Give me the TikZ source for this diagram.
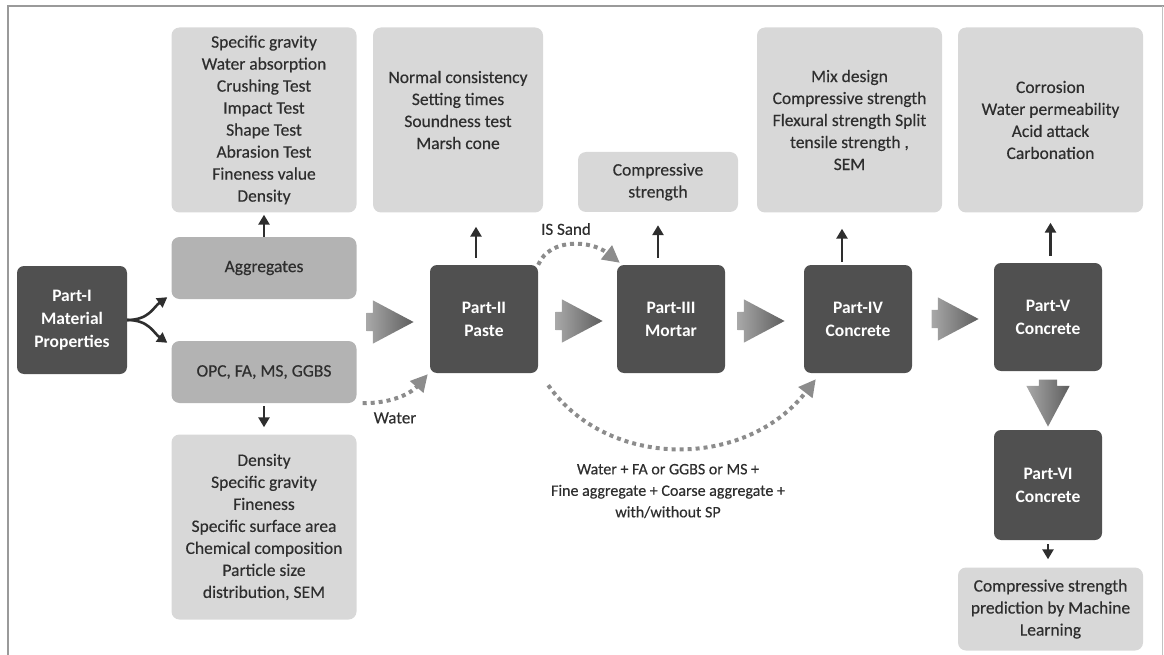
\documentclass[tikz,border=0pt]{standalone}
\usepackage{fontspec}
\setmainfont{Carlito}
\newfontfamily\medfont[FakeBold=0.35]{Carlito}
\usepackage{tikz}
\usetikzlibrary{arrows.meta}
\usetikzlibrary{shapes.arrows}
\definecolor{partgray}{HTML}{505050}
\definecolor{propgray}{HTML}{D8D8D8}
\definecolor{matgray}{HTML}{B3B3B3}
\definecolor{inkgray}{HTML}{2E2E2E}
\definecolor{dotgray}{HTML}{8C8C8C}
\definecolor{framegray}{HTML}{9A9A9A}
\definecolor{flowlight}{HTML}{A8A8A8}
\definecolor{flowdark}{HTML}{5E5E5E}
\tikzstyle{part}=[fill=partgray, rounded corners=7pt, minimum width=108pt, minimum height=108pt, text=white, font=\fontsize{17.5}{23}\selectfont\bfseries, align=center]
\tikzstyle{prop}=[fill=propgray, rounded corners=8pt, minimum width=185pt, minimum height=185pt, inner sep=0pt, text=inkgray, font=\fontsize{17.5}{22}\selectfont\medfont, align=center]
\tikzstyle{mat}=[prop, fill=matgray, minimum height=62pt]
\tikzstyle{note}=[text=inkgray, font=\fontsize{17}{22}\selectfont\medfont, align=center]
\tikzstyle{link}=[draw=inkgray, line width=2.6pt, -{Triangle[length=10pt,width=11pt]}]
\tikzstyle{feed}=[draw=dotgray, line width=4pt, dash pattern=on 4pt off 4pt, -{Triangle[length=17pt,width=17pt]}]
\tikzstyle{flow}=[single arrow, single arrow head extend=12.5pt, single arrow tip angle=56, inner xsep=0pt, inner ysep=9pt, minimum height=47pt, left color=flowlight, right color=flowdark]

\begin{document}
\begin{tikzpicture}[x=1pt, y=-1pt]
    \useasboundingbox (0,0) rectangle (1164,655);
    \draw[framegray, line width=2pt] (8,655) -- (8,6) -- (1164,6);
    \draw[framegray!60, line width=1pt] (1162,6) -- (1162,655);

    % parts
    \node[part, minimum width=110pt] (p1) at (72,320) {Part-I\\Material\\Properties};
    \node[part] (p2) at (484,319) {Part-II\\Paste};
    \node[part] (p3) at (671,319) {Part-III\\Mortar};
    \node[part] (p4) at (858,319) {Part-IV\\Concrete};
    \node[part] (p5) at (1048,317) {Part-V\\Concrete};
    \node[part, minimum height=110pt] (p6) at (1048,485) {Part-VI\\Concrete};

    % materials and tests
    \node[mat] (agg) at (264,268) {Aggregates};
    \node[mat] (opc) at (264,372) {OPC, FA, MS, GGBS};
    \node[prop] (aggprop) at (264,120) {Specific gravity\\Water absorption\\Crushing Test\\Impact Test\\Shape Test\\Abrasion Test\\Fineness value\\Density};
    \node[prop] (opcprop) at (264,527) {Density\\Specific gravity\\Fineness\\Specific surface area\\Chemical composition\\Particle size\\distribution, SEM};
    \node[prop, minimum width=170pt] (pasteprop) at (458,120) {};
    \node[note, font=\fontsize{17.5}{22}\selectfont\medfont] (pastetxt) at (458,110) {Normal consistency\\Setting times\\Soundness test\\Marsh cone};
    \node[prop, minimum width=160pt, minimum height=60pt] (mortprop) at (658,182) {Compressive\\strength};
    \node[prop] (concprop) at (849.5,120) {Mix design\\Compressive strength\\Flexural strength Split\\tensile strength ,\\SEM};
    \node[prop] (durprop) at (1050.5,120) {Corrosion\\Water permeability\\Acid attack\\Carbonation};
    \node[prop, minimum height=83pt] (mlprop) at (1050.5,609) {Compressive strength\\prediction by Machine\\Learning};

    % big arrows
    \node[flow, anchor=tip] (f12) at (414,322) {};
    \node[flow, anchor=tip] (f23) at (603,321) {};
    \node[flow, anchor=tip] (f34) at (785,321) {};
    \node[flow, anchor=tip] (f45) at (979,319) {};
    \node[flow, anchor=tip, rotate=-90] (f56) at (1048,427) {};

    \draw[link] (p1.east) .. controls +(22,0) and +(-14,10) .. ([xshift=-4pt,yshift=2pt]agg.south west);
    \draw[link] (p1.east) .. controls +(22,0) and +(-14,-10) .. ([xshift=-4pt,yshift=-2pt]opc.north west);
    \draw[link, shorten >=2pt] (agg.north) -- (aggprop.south);
    \draw[link, shorten <=3pt, shorten >=7pt] (opc.south) -- (opcprop.north);
    \draw[link, shorten <=7pt, shorten >=14pt] ([xshift=-8pt]p2.north) -- ([xshift=-8pt]p2.north |- pasteprop.south);
    \draw[link, shorten <=7pt, shorten >=13pt] (p3.north -| mortprop.south) -- (mortprop.south);
    \draw[link, shorten <=3pt, shorten >=16pt] ([xshift=-16pt]p4.north) -- ([xshift=-16pt]p4.north |- concprop.south);
    \draw[link, shorten <=7pt, shorten >=10pt] (p5.north -| durprop.south) -- (durprop.south);
    \draw[link, shorten <=4pt, shorten >=8pt] (p6.south) -- (p6.south |- mlprop.north);

    % dotted feeds
    \draw[feed] (p2.north east) .. controls +(12,-28) and +(-28,-22) .. ([xshift=3pt,yshift=2pt]p3.north west);
    \draw[feed] ([xshift=6pt]opc.south east) .. controls +(35,0) and +(-14,16) .. ([xshift=-2pt,yshift=-1pt]p2.south west);
    \draw[feed] ([xshift=10pt,yshift=-12pt]p2.south east) .. controls +(60,85) and +(-70,90) .. ([xshift=12pt,yshift=-6pt]p4.south west);
    \node[note] (sandtxt) at (566,229) {IS Sand};
    \node[note] (watertxt) at (395,418) {Water};
    \node[note, font=\fontsize{16}{21.5}\selectfont\medfont] (mixtxt) at (668,491) {Water + FA or GGBS or MS +\\Fine aggregate + Coarse aggregate +\\with/without SP};
\end{tikzpicture}
\end{document}
